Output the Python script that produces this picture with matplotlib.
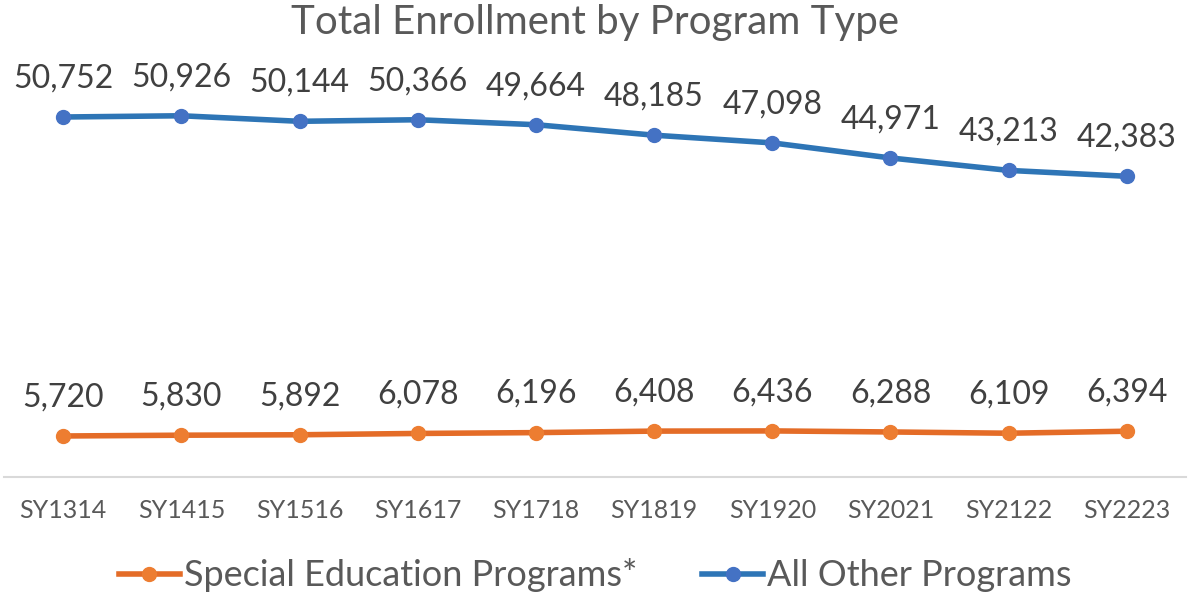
import matplotlib.pyplot as plt

plt.rcParams['font.family'] = ['Lato', 'DejaVu Sans']

years = ['SY1314', 'SY1415', 'SY1516', 'SY1617', 'SY1718',
         'SY1819', 'SY1920', 'SY2021', 'SY2122', 'SY2223']
special_ed = [5720, 5830, 5892, 6078, 6196, 6408, 6436, 6288, 6109, 6394]
all_other = [50752, 50926, 50144, 50366, 49664, 48185, 47098, 44971, 43213, 42383]

fig = plt.figure(figsize=(11.9, 5.96), dpi=100)
ax = fig.add_axes([0.0034, 0.2005, 0.9932, 0.7131])

x = range(len(years))
ax.plot(x, special_ed, color='#E46C27', lw=4, marker='o', ms=10,
        mfc='#ED7D31', mec='#ED7D31', label='Special Education Programs*')
ax.plot(x, all_other, color='#2E75B6', lw=4, marker='o', ms=10,
        mfc='#4472C4', mec='#4472C4', label='All Other Programs')

# data labels above each point
for i in x:
    ax.annotate(f'{special_ed[i]:,}', (i, special_ed[i]), xytext=(0, 17),
                textcoords='offset points', ha='center', va='bottom',
                fontsize=23, color='#404040')
    ax.annotate(f'{all_other[i]:,}', (i, all_other[i]), xytext=(0, 17),
                textcoords='offset points', ha='center', va='bottom',
                fontsize=23, color='#404040')

ax.set_xlim(-0.5, 9.5)
ax.set_ylim(0, 60000)
ax.set_xticks(list(x))
ax.set_xticklabels(years, fontsize=18, color='#595959')
ax.tick_params(axis='x', length=0, pad=16)
ax.set_yticks([])
for s in ['top', 'left', 'right']:
    ax.spines[s].set_visible(False)
ax.spines['bottom'].set_color('#D9D9D9')
ax.spines['bottom'].set_linewidth(1.5)

fig.text(0.5, 0.963, 'Total Enrollment by Program Type', fontsize=29,
         color='#595959', ha='center', va='center')
fig.legend(loc='center', bbox_to_anchor=(0.5, 0.035), ncol=2, frameon=False,
           fontsize=26, labelcolor='#595959', handlelength=1.7, handletextpad=0.1,
           columnspacing=1.8)

fig.savefig('out.png', dpi=100)
